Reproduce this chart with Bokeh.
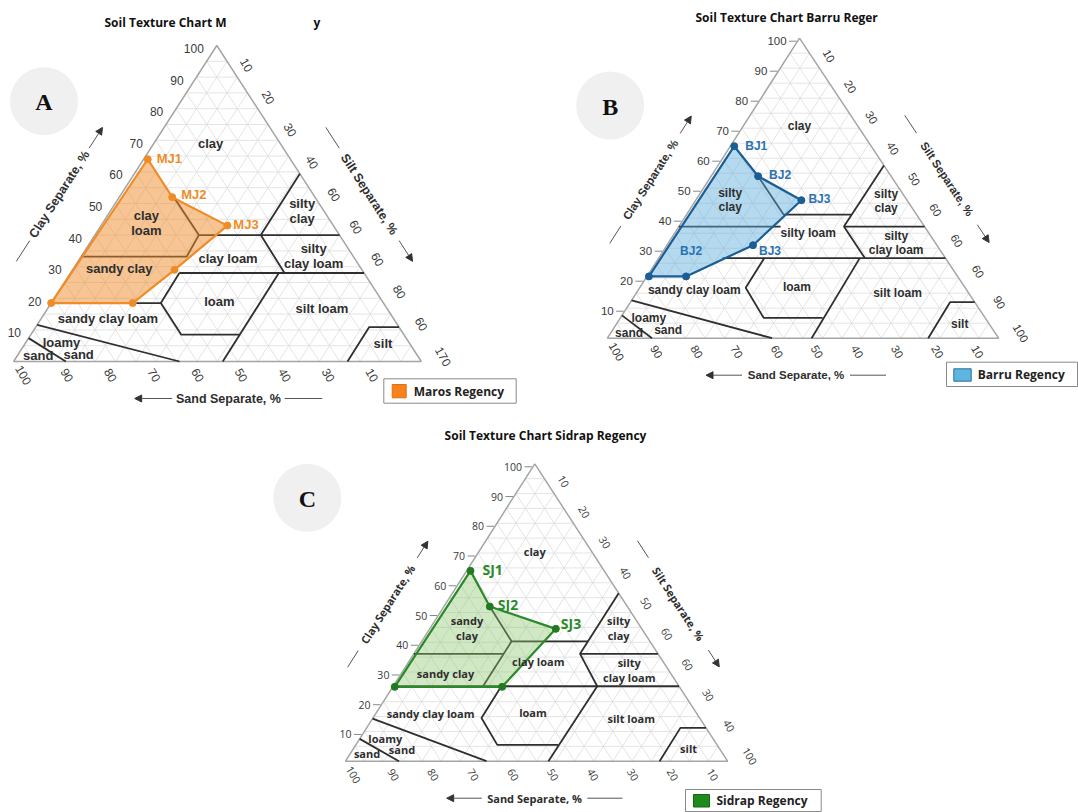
import math
from bokeh.plotting import figure
from bokeh.models import Range1d, Arrow, NormalHead
from bokeh.core.properties import value
from bokeh.embed import file_html
from bokeh.resources import INLINE

# ---------------- sample data (percent; sand = 100 - clay - silt) ----------------
maros_names = ["MJ1", "MJ2", "MJ3", "", "", ""]
maros_clay = [64, 52, 43, 29, 18.5, 18.5]
maros_silt = [1, 13, 31, 25, 20, 0]

barru_names = ["BJ1", "BJ2", "BJ3", "BJ3", "BJ2", ""]
barru_clay = [64, 54, 46, 31, 20.6, 20.6]
barru_silt = [1, 12, 27, 22, 10, 0.5]

sidrap_names = ["SJ1", "SJ2", "SJ3", "", ""]
sidrap_clay = [64, 52, 44.5, 25, 25]
sidrap_silt = [1, 12, 33, 28.6, 0.5]

# ---------------- tick labels ----------------
clay_tick_values = [10, 20, 30, 40, 50, 60, 70, 80, 90, 100]
clay_tick_labels = ["10", "20", "30", "40", "50", "60", "70", "80", "90", "100"]
sand_tick_values_a = [100, 90, 80, 70, 60, 50, 40, 30, 20]
sand_tick_labels_a = ["100", "90", "80", "70", "60", "50", "40", "30", "10"]
sand_tick_values = [100, 90, 80, 70, 60, 50, 40, 30, 20, 10]
sand_tick_labels = ["100", "90", "80", "70", "60", "50", "40", "30", "20", "10"]
silt_tick_values = [10, 20, 30, 40, 50, 60, 70, 80, 90, 100]
silt_tick_labels_a = ["10", "20", "30", "40", "60", "60", "60", "80", "60", "170"]
silt_tick_labels_b = ["10", "20", "30", "40", "50", "60", "60", "60", "90", "100"]
silt_tick_labels_c = ["10", "20", "30", "40", "50", "60", "60", "30", "40", "100"]

# ---------------- texture class boundaries: polylines of (clay %, silt %) ----------------
maros_boundaries = [
    [(52, 13.4), (40, 25.5), (40, 60)],
    [(40, 25.5), (33.2, 25.9), (33.2, 0)],
    [(59.4, 40.6), (40, 40.7), (28, 52.5)],
    [(28, 26.7), (28, 72)],
    [(28, 26.7), (18.5, 26.9), (18.5, 0)],
    [(18.5, 26.9), (8.5, 36.9), (8.5, 51.1)],
    [(28, 51.1), (0, 51.3)],
    [(0, 81.9), (10.9, 81.8), (10.9, 89.1)],
    [(11.6, 0), (0, 40.7)],
    [(7.4, 0), (0, 12.8)],
]
barru_boundaries = [
    [(54, 12), (41.2, 24.8), (41.2, 42.2)],
    [(57.6, 42.4), (37.2, 42.2), (26.7, 52.7)],
    [(37.2, 0), (37.2, 26)],
    [(37.2, 42.2), (37.2, 62.8)],
    [(26.7, 16.3), (26.7, 73.3)],
    [(26.7, 27), (16.8, 27.1), (6.8, 36.6), (6.8, 51.7)],
    [(26.7, 51.4), (0, 52.2)],
    [(0, 82), (12, 81.7), (12, 88)],
    [(12.6, 0), (0, 42.1)],
    [(7.6, 0), (0, 11.4)],
]
sidrap_boundaries = [
    [(52, 12), (40.3, 23.5), (40.3, 43.5)],
    [(56.5, 43.5), (36.1, 43.5), (25.2, 53.4)],
    [(40.3, 23.5), (25.2, 23.5)],
    [(36.1, 0), (36.1, 23.5)],
    [(36.1, 43.5), (36.1, 63.9)],
    [(25.2, 0), (25.2, 74.8)],
    [(25.2, 28.3), (14.5, 28.4), (5.5, 37), (5.5, 52.9)],
    [(25.2, 53.4), (0, 53.1)],
    [(0, 82.2), (11.2, 82.1), (11.2, 88.8)],
    [(14.3, 0), (0, 36.9)],
    [(7.5, 0), (0, 14)],
]

# ---------------- texture class names: (name, clay %, silt %) ----------------
maros_classes = [
    ("clay", 68.9, 14), ("clay\nloam", 43.7, 10.8), ("sandy clay", 29.3, 11.3),
    ("silty\nclay", 47.5, 47.1), ("clay loam", 32.7, 36.3), ("silty\nclay loam", 33.5, 56.9),
    ("loam", 19, 41), ("sandy clay loam", 13.5, 16.4), ("silt loam", 16.7, 67.3),
    ("silt", 5.6, 87.8), ("loamy", 5.9, 8.8), ("sand", 2.1, 14.9), ("sand", 1.9, 5.1),
]
barru_classes = [
    ("clay", 70.9, 14.3), ("silty\nclay", 46.2, 8.7), ("silty loam", 35.1, 34.1),
    ("silty\nclay", 45.7, 48.8), ("silty\nclay loam", 31.6, 58.3),
    ("sandy clay loam", 16.1, 14.3), ("loam", 17.2, 40), ("silt loam", 15, 66.8),
    ("silt", 4.8, 87.7), ("loamy", 6.7, 7.3), ("sand", 2.9, 14.1), ("sand", 1.7, 4.7),
]
sidrap_classes = [
    ("clay", 70.5, 14.6), ("sandy\nclay", 44.8, 9.6), ("sandy clay", 29.4, 11.6),
    ("clay loam", 33.6, 33.8), ("silty\nclay", 44.8, 49.3), ("silty\nclay loam", 30.8, 59),
    ("sandy clay loam", 15.9, 14.4), ("loam", 16.5, 40.9), ("silt loam", 14.5, 67.6),
    ("silt", 4.4, 87.6), ("loamy", 7.5, 6.7), ("sand", 3.8, 12.9), ("sand", 2.5, 4.4),
]

# ---------------- layout / style of the three panels ----------------
panels = [
    dict(T=(216.3, 45), L=(13.1, 361), R=(420.8, 361),
         names=maros_names, clay=maros_clay, silt=maros_silt,
         name_off=[(9, -1), (9, -3), (6, -1), None, None, None],
         bounds=maros_boundaries, classes=maros_classes,
         sand_vals=sand_tick_values_a, sand_labs=sand_tick_labels_a, sand_dx=(10, 28),
         silt_labs=silt_tick_labels_a, dash=False,
         font="Liberation Sans", fs_cls="13px", fs_tick="12px", fs_ax="12.5px", fs_pt="13px",
         fill="#f08c28", fill_alpha=0.5, edge="#f08c28", pt="#f08c28", ptxt="#f08c28",
         title=[("Soil Texture Chart M", 104, 22), ("y", 313, 22)], title_align="left",
         circle=(43.5, 100.7), letter="A", sand_shift=11,
         legend_box=(383.3, 378.3, 515.7, 402.7), legend_sq=(391.7, 384, 405.7, 397.3),
         legend_sq_color="#f5841f", legend_sq_line="#e07010",
         legend_text=("Maros Regency", 413.3, 390.7)),
    dict(T=(799, 37.7), L=(606.9, 337.7), R=(998.1, 337.7),
         names=barru_names, clay=barru_clay, silt=barru_silt,
         name_off=[(11, 0), (11, -1), (7, -1), (6, 6), (-6, -25), None],
         bounds=barru_boundaries, classes=barru_classes,
         sand_vals=sand_tick_values, sand_labs=sand_tick_labels, sand_dx=(9, 10),
         silt_labs=silt_tick_labels_b, dash=True,
         font="Liberation Sans", fs_cls="12px", fs_tick="11.5px", fs_ax="11.5px", fs_pt="12px",
         fill="#5aaedc", fill_alpha=0.45, edge="#1b5e96", pt="#1b5e96", ptxt="#2a72b2",
         title=[("Soil Texture Chart Barru Reger", 695, 17.3)], title_align="left",
         circle=(609.7, 105), letter="B", sand_shift=-7,
         legend_box=(946, 361.7, 1077, 386), legend_sq=(953.3, 368.3, 970.7, 380.7),
         legend_sq_color="#5cb6e0", legend_sq_line="#2a6f9a",
         legend_text=("Barru Regency", 977.3, 374)),
    dict(T=(534.3, 463.3), L=(345, 760.7), R=(727.1, 760.7),
         names=sidrap_names, clay=sidrap_clay, silt=sidrap_silt,
         name_off=[(12, -1), (8, -2), (5, -5), None, None],
         bounds=sidrap_boundaries, classes=sidrap_classes,
         sand_vals=sand_tick_values, sand_labs=sand_tick_labels, sand_dx=(8, 17),
         silt_labs=silt_tick_labels_c, dash=True,
         font="Open Sans", fs_cls="11px", fs_tick="10.5px", fs_ax="11px", fs_pt="14px",
         fill="#8cc56e", fill_alpha=0.4, edge="#2a8a2a", pt="#217a21", ptxt="#2a8a2a",
         title=[("Soil Texture Chart Sidrap Regency", 545, 435)], title_align="center",
         circle=(306.8, 497.3), letter="C", sand_shift=-2,
         legend_box=(685, 789, 820.7, 811), legend_sq=(693, 794, 709, 806.5),
         legend_sq_color="#1e8a1e", legend_sq_line="#156615",
         legend_text=("Sidrap Regency", 716, 800.3)),
]

p = figure(width=1078, height=812, x_range=Range1d(0, 1078), y_range=Range1d(812, 0),
           output_backend="svg", toolbar_location=None, min_border=0)
p.axis.visible = False
p.grid.visible = False
p.outline_line_color = None
p.background_fill_color = "white"
p.border_fill_color = "white"

TXT = "#2e2e2e"


def draw_panel(P):
    T, L, R = P["T"], P["L"], P["R"]
    fnt = value(P["font"])

    def tp(clay, silt):
        c, s = clay / 100.0, silt / 100.0
        return (L[0] + c * (T[0] - L[0]) + s * (R[0] - L[0]),
                L[1] + c * (T[1] - L[1]) + s * (R[1] - L[1]))

    # letter badge
    p.scatter([P["circle"][0]], [P["circle"][1]], size=68, marker="circle",
              fill_color="#f0f0f0", line_color=None)
    p.text([P["circle"][0]], [P["circle"][1] + 1], text=[P["letter"]], text_align="center",
           text_baseline="middle", text_font=value("Liberation Serif"), text_font_style="bold",
           text_font_size="24px", text_color="#111111")

    # grid every 5 %
    gx, gy = [], []
    for k in range(5, 100, 5):
        for a, b in (((k, 0), (k, 100 - k)), ((0, k), (100 - k, k)), ((0, 100 - k), (100 - k, 0))):
            p1, p2 = tp(*a), tp(*b)
            gx.append([p1[0], p2[0]])
            gy.append([p1[1], p2[1]])
    p.multi_line(gx, gy, line_color="#dddddd", line_width=0.8)
    p.line([T[0], L[0], R[0], T[0]], [T[1], L[1], R[1], T[1]], line_color="#a5a5a5", line_width=1.5)

    # class boundaries
    bx, by = [], []
    for poly in P["bounds"]:
        pts = [tp(c, s) for c, s in poly]
        bx.append([q[0] for q in pts])
        by.append([q[1] for q in pts])
    p.multi_line(bx, by, line_color="#2f2f2f", line_width=1.8)

    # sample polygon
    pts = [tp(c, s) for c, s in zip(P["clay"], P["silt"])]
    xs = [q[0] for q in pts]
    ys = [q[1] for q in pts]
    p.patch(xs, ys, fill_color=P["fill"], fill_alpha=P["fill_alpha"], line_color=None)
    p.line(xs + [xs[0]], ys + [ys[0]], line_color=P["edge"], line_width=2.2)
    p.scatter(xs, ys, size=7, marker="circle", fill_color=P["pt"], line_color=P["pt"])
    lx, ly, lt = [], [], []
    for (x, y), nm, off in zip(pts, P["names"], P["name_off"]):
        if nm and off:
            lx.append(x + off[0]); ly.append(y + off[1]); lt.append(nm)
    p.text(lx, ly, text=lt, text_align="left", text_baseline="middle", text_font=fnt,
           text_font_style="bold", text_font_size=P["fs_pt"], text_color=P["ptxt"])

    # class names
    cx = [tp(c, s)[0] for _, c, s in P["classes"]]
    cy = [tp(c, s)[1] for _, c, s in P["classes"]]
    p.text(cx, cy, text=[n for n, _, _ in P["classes"]], text_align="center",
           text_baseline="middle", text_font=fnt, text_font_style="bold",
           text_font_size=P["fs_cls"], text_color=TXT, text_line_height=1.0)

    # clay ticks (left edge)
    tx, ty = [], []
    for v in clay_tick_values:
        y = tp(v, 0)[1] + 3
        cc = (L[1] - y) / (L[1] - T[1])
        ex = L[0] + cc * (T[0] - L[0])
        tx.append(ex - 11); ty.append(y)
        if P["dash"]:
            p.segment(ex - 8.5, y, ex - 1, y, line_color="#888888", line_width=1)
    p.text(tx, ty, text=clay_tick_labels, text_align="right", text_baseline="middle",
           text_font=fnt, text_font_size=P["fs_tick"], text_color="#3a3a3a")

    # sand ticks (bottom)
    b0, b1 = P["sand_dx"]
    sx, sy = [], []
    for v in P["sand_vals"]:
        x, y = tp(0, 100 - v)
        sx.append(x + b0 + b1 * (1 - v / 100.0)); sy.append(y + 13.5)
    p.text(sx, sy, text=P["sand_labs"], text_align="center", text_baseline="middle",
           text_font=fnt, text_font_size=P["fs_tick"], text_color="#3a3a3a", angle=-math.pi / 3)

    # silt ticks (right edge)
    rx, ry = [], []
    for v in silt_tick_values:
        x, y = tp(100 - v, v)
        s = v / 100.0
        rx.append(x + 8 + 14 * s); ry.append(y - 13 + 8 * s)
    p.text(rx, ry, text=P["silt_labs"], text_align="center", text_baseline="middle",
           text_font=fnt, text_font_size=P["fs_tick"], text_color="#3a3a3a", angle=-math.pi / 3)

    # axis names along left / right edges
    for which, txt in (("clay", "Clay Separate, %"), ("silt", "Silt Separate, %")):
        if which == "clay":
            ax, ay, bx_, by_ = L[0], L[1], T[0], T[1]
            frac, off = 0.44, 0.138
        else:
            ax, ay, bx_, by_ = T[0], T[1], R[0], R[1]
            frac, off = 0.552, 0.125
        dx, dy = bx_ - ax, by_ - ay
        ln = math.hypot(dx, dy)
        ux, uy = dx / ln, dy / ln
        nx, ny = uy, -ux
        mx = ax + ux * frac * ln + nx * off * ln
        my = ay + uy * frac * ln + ny * off * ln
        half, gap = 0.212 * ln, 55
        p.segment(mx - ux * half, my - uy * half, mx - ux * gap, my - uy * gap,
                  line_color="#555555", line_width=1)
        p.add_layout(Arrow(end=NormalHead(size=7, fill_color="#333333", line_color="#333333"),
                           x_start=mx + ux * gap, y_start=my + uy * gap,
                           x_end=mx + ux * half, y_end=my + uy * half,
                           line_color="#555555", line_width=1))
        p.text([mx], [my], text=[txt], angle=math.atan2(-uy, ux), text_align="center",
               text_baseline="middle", text_font=fnt, text_font_style="bold",
               text_font_size=P["fs_ax"], text_color=TXT)

    # sand axis name
    W = R[0] - L[0]
    scx = (L[0] + R[0]) / 2 + P["sand_shift"]
    scy = L[1] + 37
    p.add_layout(Arrow(end=NormalHead(size=7, fill_color="#333333", line_color="#333333"),
                       x_start=scx - 0.138 * W, y_start=scy, x_end=scx - 0.23 * W, y_end=scy,
                       line_color="#555555", line_width=1))
    p.segment(scx + 0.138 * W, scy, scx + 0.23 * W, scy, line_color="#555555", line_width=1)
    p.text([scx], [scy], text=["Sand Separate, %"], text_align="center", text_baseline="middle",
           text_font=fnt, text_font_style="bold", text_font_size=P["fs_ax"], text_color=TXT)

    # title
    for t, x, y in P["title"]:
        p.text([x], [y], text=[t], text_align=P["title_align"], text_baseline="middle",
               text_font=value("Open Sans"), text_font_style="bold", text_font_size="12px",
               text_color="#111111")

    # legend
    x0, y0, x1, y1 = P["legend_box"]
    p.quad(left=[x0], right=[x1], top=[y0], bottom=[y1], fill_color="white",
           line_color="#8a8a8a", line_width=1)
    q0, r0, q1, r1 = P["legend_sq"]
    p.quad(left=[q0], right=[q1], top=[r0], bottom=[r1], fill_color=P["legend_sq_color"],
           line_color=P["legend_sq_line"], line_width=1)
    t, x, y = P["legend_text"]
    p.text([x], [y], text=[t], text_align="left", text_baseline="middle",
           text_font=value("Open Sans"), text_font_style="bold", text_font_size="12px",
           text_color="#222222")


for P in panels:
    draw_panel(P)

open("out.html", "w").write(file_html(p, INLINE))
